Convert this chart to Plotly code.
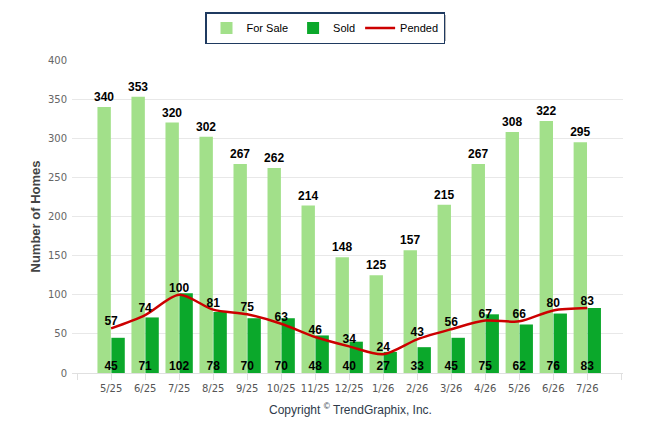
import plotly.graph_objects as go

months = ["5/25", "6/25", "7/25", "8/25", "9/25", "10/25", "11/25", "12/25",
          "1/26", "2/26", "3/26", "4/26", "5/26", "6/26", "7/26"]
for_sale = [340, 353, 320, 302, 267, 262, 214, 148, 125, 157, 215, 267, 308, 322, 295]
sold = [45, 71, 102, 78, 70, 70, 48, 40, 27, 33, 45, 75, 62, 76, 83]
pended = [57, 74, 100, 81, 75, 63, 46, 34, 24, 43, 56, 67, 66, 80, 83]
y_ticks = [0, 50, 100, 150, 200, 250, 300, 350, 400]

x = list(range(len(months)))

C_SALE = "#A2E08A"
C_SOLD = "#0BA82B"
C_PEND = "#CC0000"
LBL_FONT = dict(family="Liberation Sans, Arial", size=12, color="#000000")

fig = go.Figure()
fig.add_trace(go.Bar(
    x=x, y=for_sale, name="For Sale", marker=dict(color=C_SALE, line=dict(width=0)),
    text=[str(v) for v in for_sale], textposition="outside", cliponaxis=False,
    constraintext="none",
    textfont=LBL_FONT, texttemplate="<b>%{text}</b>", hoverinfo="y",
))
fig.add_trace(go.Bar(
    x=x, y=sold, name="Sold", marker=dict(color=C_SOLD, line=dict(width=0)),
    hoverinfo="y",
))
fig.add_trace(go.Scatter(
    x=x, y=pended, name="Pended", mode="lines",
    line=dict(color=C_PEND, width=2.5, shape="spline", smoothing=0.8),
))
# Pended labels
fig.add_trace(go.Scatter(
    x=x, y=pended, mode="text", text=[f"<b>{v}</b>" for v in pended],
    textposition="top center", textfont=LBL_FONT, showlegend=False, hoverinfo="skip",
    cliponaxis=False,
))
# Sold labels at the bottom
fig.add_trace(go.Scatter(
    x=x, y=[0] * len(sold), mode="text", text=[f"<b>{v}</b>" for v in sold],
    textposition="top center", textfont=LBL_FONT, showlegend=False, hoverinfo="skip",
    cliponaxis=False,
))

fig.update_layout(
    width=638, height=426,
    margin=dict(l=64, r=23, t=52, b=61, autoexpand=False),
    paper_bgcolor="white", plot_bgcolor="white",
    barmode="group", bargap=0.18, bargroupgap=0.04,
    showlegend=True,
    legend=dict(
        orientation="h", x=0.2414, xanchor="left", y=1.153, yanchor="top",
        bordercolor="#1F3A60", borderwidth=1.5, bgcolor="white",
        font=dict(family="Liberation Sans, Arial", size=11, color="#000000"),
        itemwidth=30, traceorder="normal",
    ),
    shapes=[dict(
        type="rect", xref="paper", yref="paper",
        x0=0.2450, x1=0.6788, y0=1.0607, y1=1.1438,
        fillcolor="#B8B8B8", line=dict(width=0), layer="above",
    )],
    xaxis=dict(
        range=[-1.15, 15.05],
        tickmode="array", tickvals=[-1] + x + [15], ticktext=[""] + months + [""],
        showgrid=False, zeroline=False,
        showline=True, linecolor="#E0E0E0", linewidth=1,
        ticks="outside", ticklen=6, tickcolor="#E0E0E0",
        tickfont=dict(family="DejaVu Sans", size=10, color="#555555"),
    ),
    yaxis=dict(
        range=[0, 400], tickmode="array", tickvals=y_ticks,
        showgrid=True, gridcolor="#E8E8E8", gridwidth=1, zeroline=False,
        tickfont=dict(family="DejaVu Sans", size=10, color="#666666"),
        ticks="", ticklabelstandoff=4,
        title=dict(text="<b>Number of Homes</b>", standoff=4,
                   font=dict(family="Liberation Sans, Arial", size=13, color="#444444")),
    ),
    annotations=[dict(
        text="Copyright <sup>©</sup> TrendGraphix, Inc.", xref="paper", yref="paper",
        x=0.505, y=-0.115, xanchor="center", yanchor="middle", showarrow=False,
        font=dict(family="Liberation Sans, Arial", size=12, color="#2E3A4A"),
    )],
)

fig.write_html("out.html")
